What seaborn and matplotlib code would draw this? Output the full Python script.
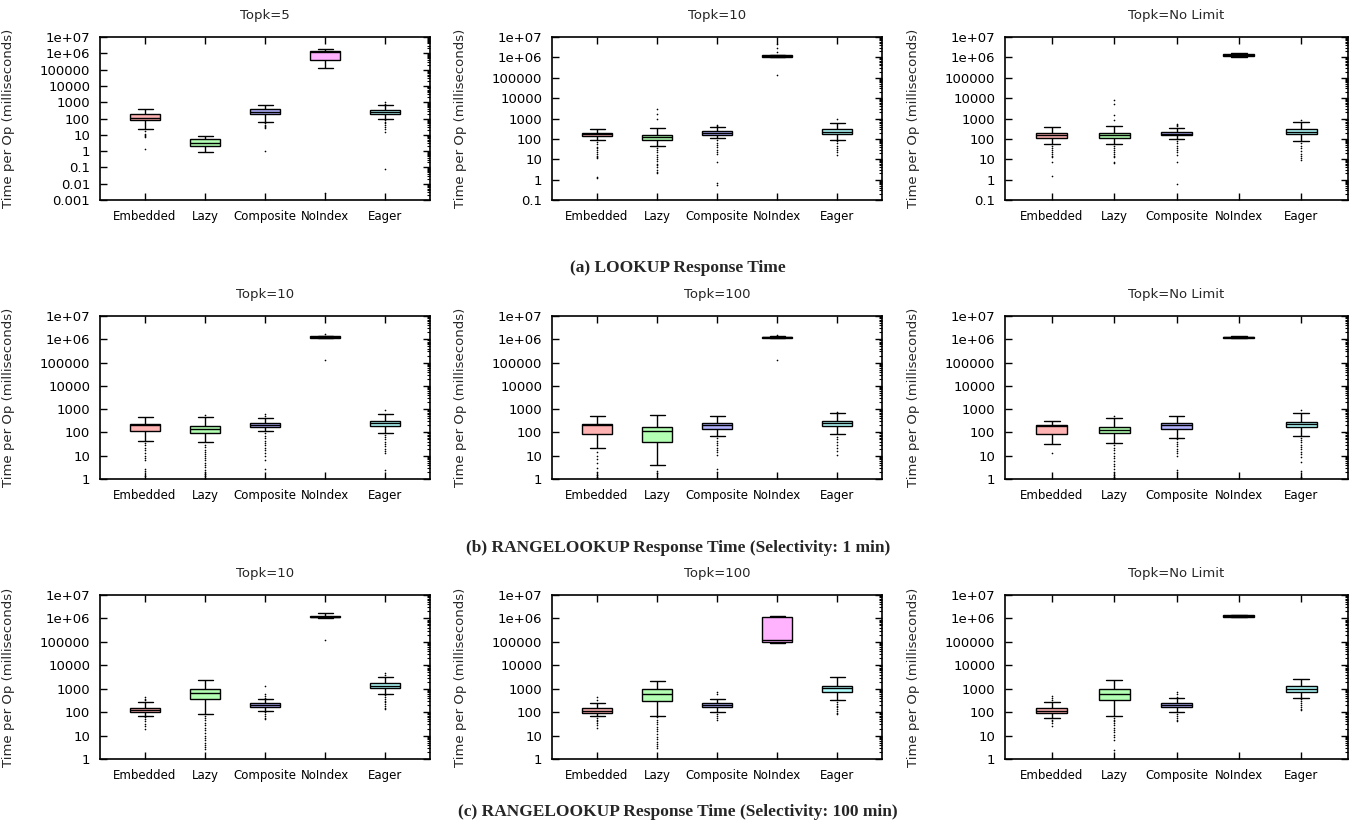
import numpy as np
import pandas as pd
import matplotlib
matplotlib.use("Agg")
import matplotlib.pyplot as plt
import seaborn as sns
from matplotlib.ticker import FuncFormatter, LogLocator, NullFormatter

methods = ["Embedded", "Lazy", "Composite", "NoIndex", "Eager"]
colors = ["#ffb3b3", "#b3ffb3", "#b3b3ff", "#ffb3ff", "#b3ffff"]

# each box: [whisker low, q1, median, q3, whisker high] (ms)
# (a) LOOKUP
a1_box = [[22, 76, 115, 176, 390], [0.83, 2.1, 3.3, 5.2, 8.7], [60, 176, 260, 390, 630],
          [1.2e5, 3.7e5, 1.2e6, 1.3e6, 1.85e6], [95, 176, 250, 325, 630]]
a1_out = [[16, 12, 10, 8, 7, 1.4], [], [50, 42, 35, 30, 25, 1.0], [0.0028],
          [1000, 800, 80, 65, 50, 40, 30, 22, 15, 0.076]]
a2_box = [[93, 141, 170, 205, 290], [44, 93, 124, 158, 350], [105, 158, 205, 240, 390],
          [1.0e6, 1.05e6, 1.15e6, 1.25e6, 1.3e6], [87, 170, 220, 290, 610]]
a2_out = [[70, 55, 42, 35, 28, 22, 18, 15, 13, 11, 1.4, 1.2],
          [2800, 1700, 1000, 35, 28, 22, 17, 13, 10, 8, 6, 5, 4, 3, 2.5, 2],
          [480, 450, 85, 65, 50, 40, 30, 24, 19, 7.6, 0.7, 0.53],
          [4.7e6, 3.0e6, 1.9e6, 1.3e5], [900, 75, 60, 45, 35, 28, 22, 16]]
a3_box = [[54, 112, 150, 200, 390], [54, 112, 150, 200, 420], [97, 150, 180, 220, 350],
          [1.05e6, 1.12e6, 1.3e6, 1.5e6, 1.55e6], [78, 165, 220, 300, 690]]
a3_out = [[45, 35, 28, 22, 18, 15, 13, 7.2, 1.5],
          [8500, 5400, 1450, 800, 45, 35, 28, 22, 18, 15, 13, 7, 6.5],
          [550, 500, 450, 80, 60, 45, 35, 28, 22, 16, 7, 0.6], [],
          [820, 60, 45, 35, 25, 18, 14, 11, 9]]

# (b) RANGELOOKUP, selectivity 1 min
b1_box = [[41, 110, 200, 225, 480], [37, 93, 137, 180, 480], [110, 165, 210, 250, 410],
          [1.1e6, 1.15e6, 1.25e6, 1.35e6, 1.4e6], [93, 190, 250, 320, 630]]
b1_out = [[35, 28, 22, 17, 13, 10, 8, 6.7, 2.7, 2.2, 1.3],
          [560, 30, 24, 18, 15, 12, 10, 8, 6.5, 5, 4, 3.2, 2.5, 2, 1.6, 1.3, 1.1],
          [630, 520, 90, 70, 55, 45, 35, 28, 22, 17, 13, 10, 6.7, 2.8],
          [1.75e6, 1.35e5], [930, 80, 65, 50, 40, 32, 25, 20, 16, 13, 2.5]]
b2_box = [[22, 87, 200, 225, 510], [4.0, 37, 117, 167, 545], [69, 142, 205, 250, 510],
          [1.1e6, 1.15e6, 1.25e6, 1.3e6, 1.35e6], [84, 180, 250, 300, 710]]
b2_out = [[15, 10, 7, 5, 3, 2, 1.5, 1.2], [2.3, 1.9],
          [55, 45, 35, 28, 22, 17, 14, 11, 2.7, 2], [1.5e6, 1.27e5],
          [760, 65, 50, 40, 30, 22, 16, 11]]
b3_box = [[31, 84, 190, 210, 295], [35, 93, 125, 167, 435], [60, 137, 210, 250, 520],
          [1.1e6, 1.15e6, 1.25e6, 1.3e6, 1.45e6], [71, 170, 225, 290, 710]]
b3_out = [[13], [520, 28, 22, 17, 13, 10, 8, 6, 4.5, 3.5, 2.7, 2, 1.5, 1.2, 1.0],
          [50, 40, 32, 25, 20, 16, 13, 10, 2.5, 2], [],
          [930, 60, 48, 38, 30, 24, 19, 15, 12, 9, 5.5, 2.1, 1.2]]

# (c) RANGELOOKUP, selectivity 100 min
c1_box = [[69, 102, 124, 155, 263], [83, 355, 630, 970, 2350], [116, 170, 205, 240, 355],
          [1.05e6, 1.12e6, 1.2e6, 1.3e6, 1.65e6], [600, 1070, 1350, 1700, 3100]]
c1_out = [[460, 380, 320, 60, 50, 40, 32, 26, 20],
          [70, 55, 45, 35, 28, 22, 17, 13, 10, 8, 6.5, 5, 4, 3.2, 2.6],
          [1350, 575, 480, 420, 100, 85, 70, 58, 49], [1.2e5],
          [4500, 3800, 520, 440, 370, 310, 260, 220, 185, 155, 130]]
c2_box = [[69, 95, 117, 145, 255], [71, 310, 575, 930, 2200], [102, 160, 200, 240, 380],
          [9e4, 9.5e4, 1.2e5, 1.2e6, 1.3e6], [330, 750, 1040, 1300, 3250]]
c2_out = [[430, 330, 58, 48, 40, 33, 27, 22],
          [60, 48, 38, 30, 24, 19, 15, 12, 9, 7, 5.5, 4.3, 3.5, 2.9],
          [750, 600, 85, 70, 57, 46], [], [280, 230, 190, 160, 130, 110, 95, 83]]
c3_box = [[58, 89, 113, 145, 263], [69, 325, 600, 930, 2350], [102, 160, 200, 240, 390],
          [1.1e6, 1.12e6, 1.25e6, 1.35e6, 1.4e6], [415, 750, 1000, 1300, 2500]]
c3_out = [[490, 400, 320, 48, 40, 33, 26],
          [58, 48, 40, 33, 27, 22, 18, 14, 11, 9, 6.5, 2.5],
          [750, 600, 465, 85, 70, 58, 48, 42], [], [350, 290, 240, 200, 165, 140, 123]]

row_titles = [["Topk=5", "Topk=10", "Topk=No Limit"],
              ["Topk=10", "Topk=100", "Topk=No Limit"],
              ["Topk=10", "Topk=100", "Topk=No Limit"]]
row_ymin = [[0.001, 0.1, 0.1], [1, 1, 1], [1, 1, 1]]
captions = ["(a) LOOKUP Response Time",
            "(b) RANGELOOKUP Response Time (Selectivity: 1 min)",
            "(c) RANGELOOKUP Response Time (Selectivity: 100 min)"]

sns.set_theme(style="ticks")
plt.rcParams['font.family'] = ['DejaVu Sans']
plt.rcParams['axes.edgecolor'] = 'black'
plt.rcParams['axes.linewidth'] = 1.2

W, H = 1356, 825
fig = plt.figure(figsize=(W / 100, H / 100), dpi=100, facecolor='white')

col_left = [100, 552, 1005]
col_width = [330, 330, 343]
row_top = [37, 316, 595]
row_h = [163, 163, 164]
caption_y = [268, 548, 812]

palette = dict(zip(methods, colors))


def fmt(v, pos):
    if v >= 1e6:
        return f"{v:.0e}"
    return f"{v:g}"


def draw(ax, box, out, title, ymin):
    df = pd.DataFrame({"method": np.repeat(methods, 5), "time": np.concatenate(box)})
    odf = pd.DataFrame({"method": [m for m, o in zip(methods, out) for _ in o],
                        "time": [v for o in out for v in o]})
    sns.boxplot(data=df, x="method", y="time", order=methods, hue="method",
                palette=palette, legend=False, whis=(0, 100), width=0.5,
                linecolor="black", linewidth=1, saturation=1, fliersize=0,
                log_scale=True, ax=ax)
    sns.stripplot(data=odf, x="method", y="time", order=methods, jitter=False,
                  color="black", size=1.2, linewidth=0, log_scale=True, ax=ax, zorder=3)
    ax.set_xlim(-0.75, 4.75)
    ax.set_ylim(ymin, 1e7)
    ax.yaxis.set_major_locator(LogLocator(base=10, numticks=20))
    ax.yaxis.set_minor_locator(LogLocator(base=10, subs=np.arange(2, 10), numticks=20))
    ax.yaxis.set_major_formatter(FuncFormatter(fmt))
    ax.yaxis.set_minor_formatter(NullFormatter())
    ax.tick_params(axis='both', which='major', direction='in', top=True, right=True,
                   colors='black')
    ax.tick_params(axis='y', which='major', length=5, width=1, labelsize=9.5, pad=7)
    ax.tick_params(axis='y', which='minor', direction='in', length=2.5, width=0.8,
                   left=False, right=True, colors='black')
    ax.tick_params(axis='x', which='major', length=5, width=1, labelsize=8.5, pad=7)
    ax.set_xlabel("")
    ax.set_ylabel("Time per Op (milliseconds)", fontsize=9.5)
    ax.set_title(title, fontsize=9.5, pad=13)
    ax.grid(False)


boxes = [[a1_box, a2_box, a3_box], [b1_box, b2_box, b3_box], [c1_box, c2_box, c3_box]]
outs = [[a1_out, a2_out, a3_out], [b1_out, b2_out, b3_out], [c1_out, c2_out, c3_out]]

for r in range(3):
    for c in range(3):
        ax = fig.add_axes([col_left[c] / W, 1 - (row_top[r] + row_h[r]) / H,
                           col_width[c] / W, row_h[r] / H])
        draw(ax, boxes[r][c], outs[r][c], row_titles[r][c], row_ymin[r][c])
        ax.yaxis.set_label_coords(-85 / col_width[c], 0.5)
    fig.text(0.5, 1 - caption_y[r] / H, captions[r], ha='center', va='center',
             fontsize=12.5, fontweight='bold', family=['Liberation Serif', 'DejaVu Serif'])

fig.savefig("out.png", dpi=100, facecolor='white')
